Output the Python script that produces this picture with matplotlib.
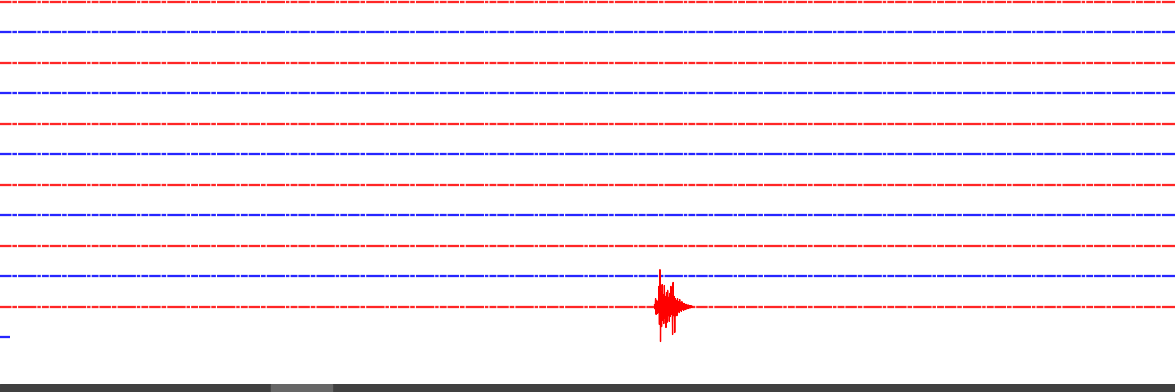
import matplotlib
matplotlib.use("Agg")
import matplotlib.pyplot as plt
import numpy as np

# ---- data ----
row_minutes = 60.0                      # each helicorder row spans 60 minutes
row_count = 12
row_colors = ["#ff0000", "#0000ff"]     # alternating trace colours
last_row_length = 0.51                  # minutes recorded on the last (current) row

# earthquake on row 10 (0-based): onset time (minutes) and sample step (minutes)
event_row = 10
event_start = 33.42
event_step = 0.028
# amplitude samples in trace units (1.0 = one row spacing)
event_values = [
    0.05, -0.08, 0.26, -0.26, 0.20, -0.23, 0.16, -0.20, 0.66, -0.59,
    1.21, -1.15, 0.49, -0.66, 0.72, -0.46, 0.39, -0.56, 0.69, -0.39,
    0.33, -0.69, 0.46, -0.52, 0.53, -0.30, 0.30, -0.49, 0.43, -0.33,
    0.66, -0.26, 0.36, -0.92, 0.79, -0.30, 0.33, -0.85, 0.26, -0.30,
    0.20, -0.30, 0.26, -0.16, 0.16, -0.20, 0.23, -0.13, 0.13, -0.16,
    0.16, -0.10, 0.10, -0.13, 0.10, -0.10, 0.07, -0.10, 0.07, -0.07,
    0.05, -0.07, 0.05, -0.05, 0.03, -0.05, 0.03, -0.03, 0.02, -0.02,
]

# ---- figure ----
W, H, DPI = 1175, 392, 100
fig = plt.figure(figsize=(W / DPI, H / DPI), dpi=DPI)
fig.patch.set_facecolor("white")

plot_h = 384
ax = fig.add_axes([0, (H - plot_h) / H, 1, plot_h / H])
row_px = 30.45
top_px = 2.0
ax.set_xlim(0, row_minutes)
ax.set_ylim((plot_h - top_px) / row_px, -top_px / row_px)
ax.axis("off")

trace_dashes = (5, 0.4, 2, 0.5, 8, 0.4, 1.5, 0.5, 3, 0.4)

for i in range(row_count):
    color = row_colors[i % 2]
    end = last_row_length if i == row_count - 1 else row_minutes
    ax.plot([0, end], [i, i], color=color, lw=1.65, alpha=0.85,
            dashes=trace_dashes, solid_capstyle="butt")
    if i == event_row:
        ev_t = event_start + event_step * np.arange(len(event_values))
        ax.plot(ev_t, i - np.asarray(event_values), color=color, lw=0.9)

# ---- scrollbar strip ----
sb = fig.add_axes([0, 0, 1, (H - plot_h) / H])
sb.set_xlim(0, W)
sb.set_ylim(0, 1)
sb.axis("off")
sb.axvspan(0, W, color="#404040")
sb.axvspan(271, 332, color="#666666")

fig.savefig("out.png", dpi=DPI, facecolor="white")
